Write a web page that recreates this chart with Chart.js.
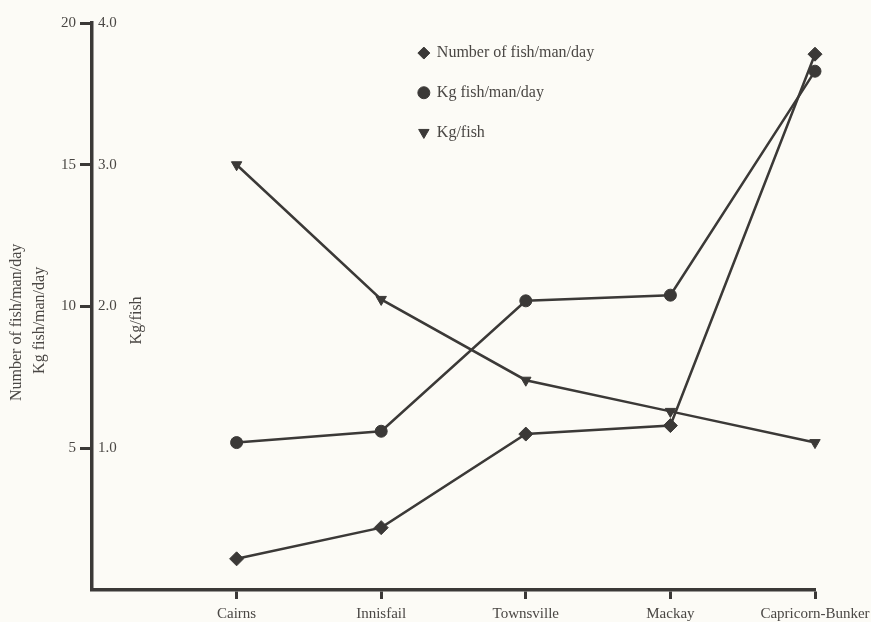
<!DOCTYPE html>
<html>
<head>
<meta charset="utf-8">
<script src="https://cdn.jsdelivr.net/npm/chart.js@4/dist/chart.umd.min.js"></script>
<style>
  html, body { margin: 0; padding: 0; background: #fcfbf6; }
  #wrap { width: 871px; height: 622px; }
</style>
</head>
<body>
<div id="wrap"><canvas id="chart" width="871" height="622"></canvas></div>
<script>
const places = ['Cairns', 'Innisfail', 'Townsville', 'Mackay', 'Capricorn-Bunker'];
const fishPerManDay = [1.1, 2.2, 5.5, 5.8, 18.9];
const kgPerManDay = [5.2, 5.6, 10.2, 10.4, 18.3];
const kgPerFish = [3.0, 2.05, 1.48, 1.26, 1.04];
const leftTicks = [5, 10, 15, 20];
const rightTicks = [1, 2, 3, 4];

const ink = '#3b3937';
const textCol = '#4a4744';
const fontFam = "'Liberation Serif', 'DejaVu Serif', serif";

function pts(arr) {
  return arr.map((v, i) => ({ x: i + 1, y: v }));
}

// legend column inside the plot
const legendItems = [
  { text: 'Number of fish/man/day', style: 'rectRot', rot: 0 },
  { text: 'Kg fish/man/day', style: 'circle', rot: 0 },
  { text: 'Kg/fish', style: 'triangle', rot: 180 }
];

function vText(ctx, txt, x, y) {
  ctx.save();
  ctx.translate(x, y);
  ctx.rotate(-Math.PI / 2);
  ctx.textAlign = 'center';
  ctx.textBaseline = 'middle';
  ctx.fillText(txt, 0, 0);
  ctx.restore();
}

const extras = {
  id: 'extras',
  afterDraw(chart) {
    const { ctx, chartArea } = chart;
    const w = chartArea.right - chartArea.left;
    const h = chartArea.bottom - chartArea.top;
    ctx.save();
    const lx = chartArea.left + w * 0.459;
    let ly = chartArea.top + h * 0.053;
    ctx.font = '16px ' + fontFam;
    ctx.textBaseline = 'middle';
    ctx.textAlign = 'left';
    legendItems.forEach(it => {
      ctx.fillStyle = ink;
      ctx.strokeStyle = ink;
      ctx.lineWidth = 1;
      Chart.helpers.drawPoint(ctx, { pointStyle: it.style, rotation: it.rot, radius: 6, borderWidth: 1 }, lx, ly);
      ctx.fillStyle = textCol;
      ctx.fillText(it.text, lx + 13, ly);
      ly += h * 0.07;
    });
    // axis titles
    const cy = chartArea.top + h * 0.528;
    ctx.fillStyle = textCol;
    ctx.font = '16px ' + fontFam;
    vText(ctx, 'Number of fish/man/day', 17, cy);
    vText(ctx, 'Kg fish/man/day', 40, cy - 2);
    vText(ctx, 'Kg/fish', chartArea.left + 45, cy - 2);
    ctx.restore();
  }
};

const lineStyle = {
  borderColor: ink,
  backgroundColor: ink,
  borderWidth: 2.5,
  pointRadius: 6,
  pointBorderWidth: 1,
  pointBorderColor: ink,
  pointBackgroundColor: ink,
  tension: 0,
  clip: false
};

new Chart(document.getElementById('chart'), {
  type: 'line',
  data: {
    datasets: [
      Object.assign({ label: 'Number of fish/man/day', data: pts(fishPerManDay), yAxisID: 'y', pointStyle: 'rectRot' }, lineStyle, { pointRadius: 7 }),
      Object.assign({ label: 'Kg fish/man/day', data: pts(kgPerManDay), yAxisID: 'y', pointStyle: 'circle' }, lineStyle),
      Object.assign({ label: 'Kg/fish', data: pts(kgPerFish), yAxisID: 'y2', pointStyle: 'triangle', pointRotation: 180 }, lineStyle)
    ]
  },
  options: {
    responsive: false,
    animation: false,
    layout: { padding: { top: 23, right: 56, left: 0, bottom: 0 } },
    plugins: {
      legend: { display: false },
      tooltip: { enabled: false }
    },
    scales: {
      x: {
        type: 'linear',
        min: 0,
        max: 5,
        afterBuildTicks: s => { s.ticks = s.ticks.filter(t => t.value > 0); },
        afterFit: s => { s.height = 32; s.paddingRight = 0; s.paddingLeft = 0; },
        ticks: {
          stepSize: 1,
          autoSkip: false,
          maxRotation: 0,
          padding: 6,
          color: textCol,
          font: { family: fontFam, size: 15 },
          callback: v => places[v - 1] || ''
        },
        grid: { drawOnChartArea: false, drawTicks: true, tickLength: 9, tickWidth: 3, tickColor: ink },
        border: { color: ink, width: 3.5 }
      },
      y: {
        position: 'left',
        weight: 1,
        min: 0,
        max: 20,
        afterBuildTicks: s => { s.ticks = leftTicks.map(v => ({ value: v })); },
        afterFit: s => { s.width = 92; },
        ticks: {
          padding: 4,
          color: textCol,
          font: { family: fontFam, size: 15 },
          callback: v => String(v)
        },
        grid: { drawOnChartArea: false, drawTicks: true, tickLength: 12, tickWidth: 3, tickColor: ink },
        border: { color: ink, width: 3.5 }
      },
      y2: {
        position: 'left',
        weight: 0,
        min: 0,
        max: 4,
        afterBuildTicks: s => { s.ticks = rightTicks.map(v => ({ value: v })); },
        afterFit: s => { s.width = 0; },
        ticks: {
          mirror: true,
          padding: 6,
          color: textCol,
          font: { family: fontFam, size: 15 },
          callback: v => v.toFixed(1)
        },
        grid: { display: false },
        border: { display: false }
      }
    }
  },
  plugins: [extras]
});
</script>
</body>
</html>
